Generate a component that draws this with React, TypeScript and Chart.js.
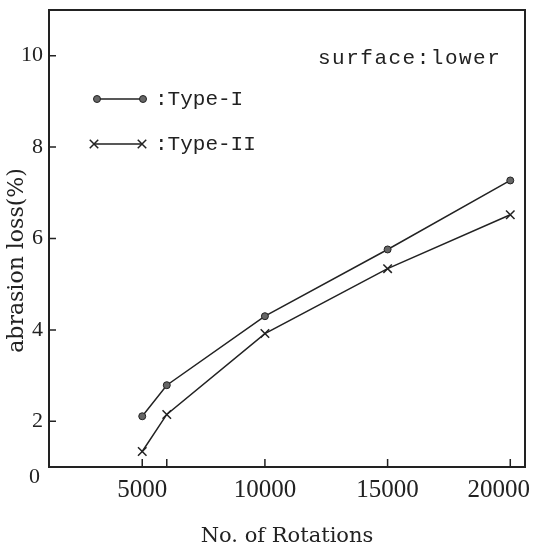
import { useEffect, useRef } from 'react';
import { Chart, registerables } from 'chart.js';

Chart.register(...registerables);

// Data
const rotations = [5000, 6000, 10000, 15000, 20000];
const typeI = [2.11, 2.79, 4.3, 5.76, 7.27];
const typeII = [1.34, 2.15, 3.92, 5.34, 6.52];

const xTickValues = [5000, 6000, 10000, 15000, 20000];
const xTickLabels = ['5000', '', '10000', '15000', '20000'];
const yTickValues = [2, 4, 6, 8, 10];
const yTickLabels = ['2', '4', '6', '8', '10'];

const xTitle = 'No. of Rotations';
const yTitle = 'abrasion loss(%)';
const originLabel = '0';
const noteText = 'surface:lower';
const seriesNames = [':Type-I', ':Type-II'];

export default function App() {
  const ref = useRef<HTMLCanvasElement>(null);

  useEffect(() => {
    document.body.style.margin = '0';
    const ink = '#222';

    const drawCircle = (ctx: CanvasRenderingContext2D, x: number, y: number) => {
      ctx.beginPath();
      ctx.arc(x, y, 3.5, 0, Math.PI * 2);
      ctx.fillStyle = '#666';
      ctx.fill();
      ctx.lineWidth = 1;
      ctx.strokeStyle = ink;
      ctx.stroke();
    };
    const drawX = (ctx: CanvasRenderingContext2D, x: number, y: number) => {
      const r = 6 * Math.SQRT1_2;
      ctx.beginPath();
      ctx.moveTo(x - r, y - r);
      ctx.lineTo(x + r, y + r);
      ctx.moveTo(x - r, y + r);
      ctx.lineTo(x + r, y - r);
      ctx.lineWidth = 1.5;
      ctx.strokeStyle = ink;
      ctx.stroke();
    };

    const decorPlugin = {
      id: 'decor',
      afterDraw(chart: any) {
        const { ctx, chartArea: a, scales, width } = chart;
        const xs = scales.x;
        const ys = scales.y;
        ctx.save();
        // frame
        ctx.strokeStyle = ink;
        ctx.lineWidth = 2;
        ctx.strokeRect(a.left, a.top, a.right - a.left, a.bottom - a.top);
        // inward tick marks
        ctx.lineWidth = 1.5;
        ctx.beginPath();
        xs.ticks.forEach((t: any) => {
          const px = xs.getPixelForValue(t.value);
          ctx.moveTo(px, a.bottom);
          ctx.lineTo(px, a.bottom - 8);
        });
        ys.ticks.forEach((t: any) => {
          const py = ys.getPixelForValue(t.value);
          ctx.moveTo(a.left, py);
          ctx.lineTo(a.left + 7, py);
        });
        ctx.stroke();

        // x tick labels (kept inside the canvas)
        ctx.fillStyle = ink;
        ctx.font = '25px "Liberation Serif", serif';
        ctx.textAlign = 'center';
        ctx.textBaseline = 'middle';
        xTickValues.forEach((v, i) => {
          const txt = xTickLabels[i];
          if (!txt) return;
          const w = ctx.measureText(txt).width;
          const px = Math.min(xs.getPixelForValue(v), width - 3 - w / 2);
          ctx.fillText(txt, px, a.bottom + 23);
        });

        // origin label
        ctx.font = '22px "Liberation Serif", serif';
        ctx.textAlign = 'right';
        ctx.fillText(originLabel, a.left - 9, a.bottom + 10);

        // y title
        ctx.save();
        ctx.translate(17, (a.top + a.bottom) / 2 + 22);
        ctx.rotate(-Math.PI / 2);
        ctx.font = '22px "DejaVu Serif", serif';
        ctx.textAlign = 'center';
        ctx.textBaseline = 'middle';
        ctx.fillText(yTitle, 0, 0);
        ctx.restore();

        // annotation
        ctx.font = '21px "Liberation Mono", monospace';
        ctx.textAlign = 'left';
        ctx.textBaseline = 'middle';
        (ctx as any).letterSpacing = '1.5px';
        ctx.fillText(noteText, a.left + 269, a.top + 48);
        (ctx as any).letterSpacing = '0px';

        // legend
        const l1y = a.top + 89;
        const l2y = a.top + 134;
        ctx.beginPath();
        ctx.moveTo(a.left + 48, l1y);
        ctx.lineTo(a.left + 94, l1y);
        ctx.moveTo(a.left + 45, l2y);
        ctx.lineTo(a.left + 93, l2y);
        ctx.lineWidth = 1.5;
        ctx.strokeStyle = ink;
        ctx.stroke();
        drawCircle(ctx, a.left + 48, l1y);
        drawCircle(ctx, a.left + 94, l1y);
        drawX(ctx, a.left + 45, l2y);
        drawX(ctx, a.left + 93, l2y);
        ctx.fillStyle = ink;
        ctx.fillText(seriesNames[0], a.left + 106, l1y);
        ctx.fillText(seriesNames[1], a.left + 106, l2y);
        ctx.restore();
      },
    };

    const chart = new Chart(ref.current as HTMLCanvasElement, {
      type: 'line',
      data: {
        datasets: [
          {
            label: 'Type-I',
            data: rotations.map((x, i) => ({ x, y: typeI[i] })),
            borderColor: ink,
            borderWidth: 1.5,
            pointStyle: 'circle',
            pointRadius: 3.5,
            pointBackgroundColor: '#666',
            pointBorderColor: ink,
            pointBorderWidth: 1,
            tension: 0,
          },
          {
            label: 'Type-II',
            data: rotations.map((x, i) => ({ x, y: typeII[i] })),
            borderColor: ink,
            borderWidth: 1.5,
            pointStyle: 'crossRot',
            pointRadius: 6,
            pointBorderColor: ink,
            pointBorderWidth: 1.5,
            tension: 0,
          },
        ],
      },
      options: {
        responsive: false,
        animation: false,
        devicePixelRatio: 1,
        layout: { padding: { top: 10, right: 8, left: 0, bottom: 0 } },
        plugins: { legend: { display: false }, tooltip: { enabled: false } },
        scales: {
          x: {
            type: 'linear',
            min: 1200,
            max: 20600,
            grid: { display: false, drawTicks: false },
            border: { display: false },
            afterBuildTicks: (s: any) => {
              s.ticks = xTickValues.map((v) => ({ value: v }));
            },
            afterFit: (s: any) => {
              s.height = 82;
              s.paddingLeft = 0;
              s.paddingRight = 0;
            },
            ticks: { display: false, autoSkip: false, maxRotation: 0 },
            title: {
              display: true,
              text: xTitle,
              color: ink,
              font: { family: '"DejaVu Serif", serif', size: 21 },
              padding: 0,
            },
          },
          y: {
            type: 'linear',
            min: 1,
            max: 11,
            grid: { display: false, drawTicks: false },
            border: { display: false },
            afterBuildTicks: (s: any) => {
              s.ticks = yTickValues.map((v) => ({ value: v }));
            },
            afterFit: (s: any) => {
              s.width = 49;
              s.paddingTop = 0;
              s.paddingBottom = 0;
            },
            ticks: {
              autoSkip: false,
              padding: 6,
              color: ink,
              font: { family: '"Liberation Serif", serif', size: 22 },
              callback: (v: any) => yTickLabels[yTickValues.indexOf(Number(v))] ?? '',
            },
          },
        },
      },
      plugins: [decorPlugin],
    } as any);

    return () => chart.destroy();
  }, []);

  return (
    <div style={{ width: 533, height: 549 }}>
      <canvas ref={ref} width={533} height={549} />
    </div>
  );
}
